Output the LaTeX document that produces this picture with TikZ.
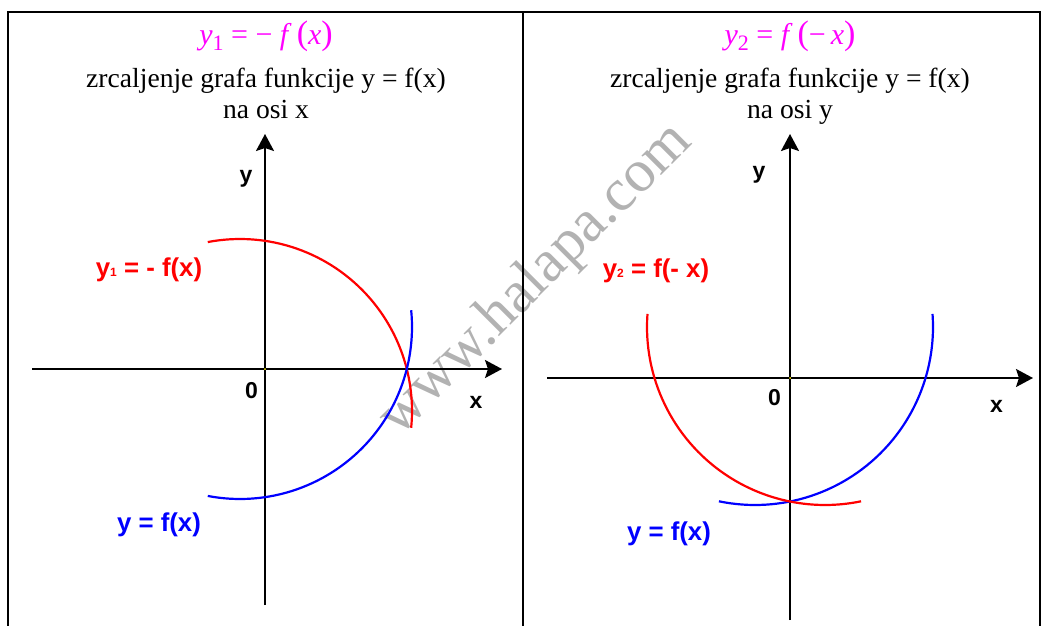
\documentclass[tikz,border=0pt]{standalone}
\usepackage{fontspec}
\setmainfont{Liberation Serif}
\newfontfamily\arialfont{Liberation Sans}
\usetikzlibrary{arrows.meta}

\definecolor{titlemag}{RGB}{255,0,255}
\newcommand{\tidx}[1]{\raisebox{-0.4ex}{\fontsize{22}{22}\selectfont\upshape #1}}
\newcommand{\lidx}[1]{{\fontsize{12}{12}\selectfont #1}}

\begin{document}
\begin{tikzpicture}[x=1pt, y=1pt,
    frame/.style={line width=2pt},
    axis/.style={line width=2pt, -{Stealth[length=17pt, width=18pt, inset=3pt]}},
    curve/.style={line width=2.2pt},
    head/.style={anchor=base, inner sep=0pt, font=\fontsize{27.6}{30}\selectfont},
    title/.style={anchor=base, inner sep=0pt, text=titlemag, font=\fontsize{30}{32}\selectfont},
    lbl/.style={anchor=base, inner sep=0pt, font=\arialfont\bfseries\fontsize{23}{23}\selectfont},
    flbl/.style={lbl, font=\arialfont\bfseries\fontsize{25.8}{26}\selectfont}
]
    \useasboundingbox (0,0) rectangle (1044,-626);

    % Watermark
    \node[rotate=45, text=black!30, font=\fontsize{60}{60}\selectfont] (wmark) at (536,-280) {www.halapa.com};

    % Table frame
    \draw[frame] (8,-626) -- (8,-12) -- (1040,-12) -- (1040,-626);
    \draw[frame] (523,-12) -- (523,-626);

    % Left: mirror on the x axis
    \node[title] (titA) at (266,-45) {\textit{y}\tidx{1} = − \textit{f}\,{\fontsize{34}{34}\selectfont(}\textit{x}{\fontsize{34}{34}\selectfont)}};
    \node[head] (hdA1) at (266,-87) {zrcaljenje grafa funkcije y = f(x)};
    \node[head] (hdA2) at (266,-118) {na osi x};

    \coordinate (xA0) at (32,-369);
    \coordinate (xA1) at (502,-369);
    \coordinate (yA0) at (265,-605);
    \coordinate (yA1) at (265,-134);
    \draw[axis] (xA0) -- (xA1);
    \draw[axis] (yA0) -- (yA1);
    \fill[yellow] (265,-369) circle (1pt);

    \node[lbl] (ylA) at (246,-182) {y};
    \node[lbl] (xlA) at (476,-408) {x};
    \node[lbl] (olA) at (251.5,-398) {0};

    \draw[curve, red] ([shift={(100.8:172)}]240,-411) arc[start angle=100.8, end angle=-5.6, radius=172];
    \draw[curve, blue] ([shift={(-100.8:172)}]240,-327) arc[start angle=-100.8, end angle=5.6, radius=172];

    \node[flbl, text=red] (fnA1) at (149,-276) {y\lidx{1} = - f(x)};
    \node[flbl, text=blue] (fnA0) at (159,-531) {y = f(x)};

    % Right: mirror on the y axis
    \node[title] (titB) at (790,-45) {\textit{y}\tidx{2} = \textit{f}\,{\fontsize{34}{34}\selectfont(}−\,\textit{x}{\fontsize{34}{34}\selectfont)}};
    \node[head] (hdB1) at (790,-87) {zrcaljenje grafa funkcije y = f(x)};
    \node[head] (hdB2) at (790,-118) {na osi y};

    \coordinate (xB0) at (547,-378);
    \coordinate (xB1) at (1033,-378);
    \coordinate (yB0) at (790,-620);
    \coordinate (yB1) at (790,-134);
    \draw[axis] (xB0) -- (xB1);
    \draw[axis] (yB0) -- (yB1);
    \fill[yellow] (790,-378) circle (1pt);

    \node[lbl] (ylB) at (759,-178) {y};
    \node[lbl] (xlB) at (996.5,-412) {x};
    \node[lbl] (olB) at (774.5,-405) {0};

    \draw[curve, blue] ([shift={(-101.7:178)}]755,-327) arc[start angle=-101.7, end angle=4.2, radius=178];
    \draw[curve, red] ([shift={(175.8:178)}]825,-327) arc[start angle=175.8, end angle=281.7, radius=178];

    \node[flbl, text=red] (fnB2) at (656,-277) {y\lidx{2} = f(- x)};
    \node[flbl, text=blue] (fnB0) at (669,-540) {y = f(x)};

\end{tikzpicture}
\end{document}
